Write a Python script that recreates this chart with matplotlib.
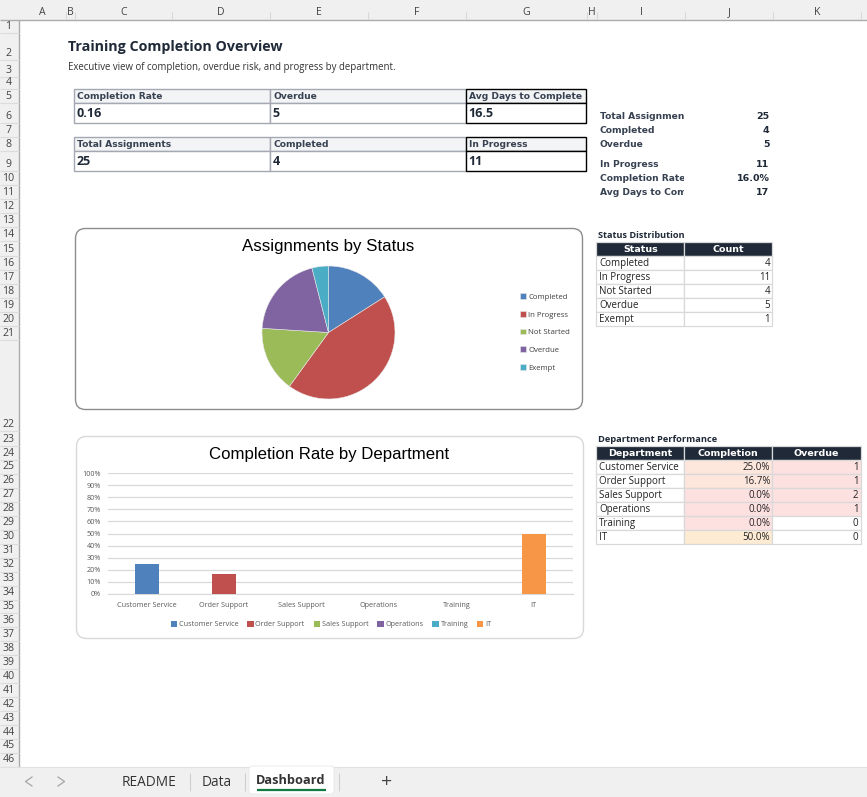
import matplotlib
matplotlib.use('Agg')
import matplotlib.pyplot as plt
from matplotlib.patches import Rectangle, FancyBboxPatch
from matplotlib.ticker import PercentFormatter

W, H = 867, 797
BODY = 'Open Sans'
HEAD = 'DejaVu Sans'
ARIAL = 'Liberation Sans'
NAVY = '#1F2937'

# data
kpi_top = [('Completion Rate', '0.16'), ('Overdue', '5'), ('Avg Days to Complete', '16.5')]
kpi_bottom = [('Total Assignments', '25'), ('Completed', '4'), ('In Progress', '11')]
side_labels = ['Total Assignments', 'Completed', 'Overdue', 'In Progress',
               'Completion Rate', 'Avg Days to Complete']
side_values = ['25', '4', '5', '11', '16.0%', '17']

statuses = ['Completed', 'In Progress', 'Not Started', 'Overdue', 'Exempt']
status_counts = [4, 11, 4, 5, 1]
status_colors = ['#4F81BD', '#C0504D', '#9BBB59', '#8064A2', '#4BACC6']

departments = ['Customer Service', 'Order Support', 'Sales Support', 'Operations', 'Training', 'IT']
completion = [0.25, 0.167, 0.0, 0.0, 0.0, 0.5]
overdue = [1, 1, 2, 1, 0, 0]
dept_colors = ['#4F81BD', '#C0504D', '#9BBB59', '#8064A2', '#4BACC6', '#F79646']

col_names = ['A', 'B', 'C', 'D', 'E', 'F', 'G', 'H', 'I', 'J', 'K']
col_edges = [19, 66, 74.5, 172, 270, 368, 466, 586.5, 597, 685, 773, 861]
row_edges = [19.5, 33, 60, 77, 89, 103, 123, 137, 151, 171, 185, 199, 213, 227, 241, 256,
             270, 284, 298, 312, 326, 340, 431, 446, 460]
while len(row_edges) < 47:
    row_edges.append(row_edges[-1] + 13.95)
sheet_tabs = ['README', 'Data', 'Dashboard']

fig = plt.figure(figsize=(W / 100, H / 100), dpi=100)
ax = fig.add_axes([0, 0, 1, 1])
ax.set_xlim(0, W)
ax.set_ylim(H, 0)
ax.axis('off')


def px_axes(x0, y0, x1, y1):
    return fig.add_axes([x0 / W, 1 - y1 / H, (x1 - x0) / W, (y1 - y0) / H])


def box(x0, y0, x1, y1, fc='none', ec='none', lw=1.0, z=2):
    ax.add_patch(Rectangle((x0, y0), x1 - x0, y1 - y0, fc=fc, ec=ec, lw=lw, zorder=z))


def line(xs, ys, color, lw=1.0, z=1):
    ax.plot(xs, ys, color=color, lw=lw, zorder=z, solid_capstyle='butt')


# sheet headers
box(0, 0, W, 19.5, fc='#F0F0F0', z=0)
box(0, 19.5, 19, 767, fc='#F0F0F0', z=0)
line([0, W], [19.5, 19.5], '#ABABAB', 1.0)
line([19, 19], [19.5, 767], '#ABABAB', 1.0)
for i, name in enumerate(col_names):
    ax.text((col_edges[i] + col_edges[i + 1]) / 2, 12.5, name, ha='center', va='center',
            fontsize=7.6, color='#444444', family=BODY)
    line([col_edges[i + 1]] * 2, [12, 19], '#D8D8D8', 0.8)
for i in range(46):
    bottom = row_edges[i + 1]
    ax.text(8.5, bottom - 7, str(i + 1), ha='center', va='center', fontsize=7.6,
            color='#444444', family=BODY)
    line([0, 19], [bottom, bottom], '#DCDCDC', 0.8)

# title
ax.text(68, 47, 'Training Completion Overview', fontsize=10.25, fontweight='bold', color=NAVY,
        family=BODY, va='center')
ax.text(68, 67.5, 'Executive view of completion, overdue risk, and progress by department.',
        fontsize=6.95, color='#333333', family=BODY, va='center')


# KPI cards
def kpi_row(items, y0, y1, y2):
    edges = [74.2, 270.2, 466.2, 586.2]
    for i, (label, value) in enumerate(items):
        last = i == 2
        ec = 'black' if last else '#A3A8B2'
        box(edges[i], y0, edges[i + 1], y1, fc='#F3F4F6', ec=ec, z=4 if last else 3)
        box(edges[i], y1, edges[i + 1], y2, fc='white', ec=ec, z=4 if last else 3)
        ax.text(edges[i] + 3, (y0 + y1) / 2 + (0.7 if last else 0), label, fontsize=6.55,
                fontweight='bold', family=HEAD, color='#374151', va='center', zorder=5)
        ax.text(edges[i] + 2.5, (y1 + y2) / 2 + (0.7 if last else 0), value, fontsize=9,
                fontweight='bold', family=BODY, color=NAVY, va='center', zorder=5)


kpi_row(kpi_top, 89, 103, 123)
kpi_row(kpi_bottom, 137, 151, 171)

# side summary, labels cut off at the column edge as in the sheet
side_ys = [116.5, 130.5, 144.5, 164.5, 178.5, 192.5]
side_clip = Rectangle((597, 100), 87, 100, transform=ax.transData)
for y, label, value in zip(side_ys, side_labels, side_values):
    t = ax.text(600, y, label, fontsize=6.55, fontweight='bold', family=HEAD, color='#374151',
                va='center')
    t.set_clip_path(side_clip)
    t.set_clip_on(True)
    ax.text(769.5, y, value, fontsize=6.8, fontweight='bold', family=HEAD, color=NAVY,
            va='center', ha='right')


def table_cell(x0, x1, y0, text, fc='white', ha='left'):
    box(x0, y0, x1, y0 + 14, fc=fc, ec='#D9D9D9', lw=0.9)
    tx = x0 + 3 if ha == 'left' else x1 - 2
    ax.text(tx, y0 + 7.5, text, ha=ha, va='center', fontsize=7, family=BODY, color='#222222',
            zorder=5)


def header_cell(x0, x1, y0, text):
    box(x0, y0, x1, y0 + 14, fc=NAVY, ec='#D9D9D9', lw=0.9)
    ax.text((x0 + x1) / 2, y0 + 7, text, ha='center', va='center', fontsize=6.8,
            fontweight='bold', family=HEAD, color='white', zorder=5)


def rate_fill(rate):
    if rate == 0:
        return '#FDE0E0'
    return '#FDEBD3' if rate >= 0.5 else '#FDE6DC'


# status table
ax.text(598.5, 235.5, 'Status Distribution', fontsize=6.6, fontweight='bold', color=NAVY,
        family=BODY, va='center')
header_cell(596.3, 684.2, 242, 'Status')
header_cell(684.2, 772.2, 242, 'Count')
for i, (status, count) in enumerate(zip(statuses, status_counts)):
    y0 = 256 + 14 * i
    table_cell(596.3, 684.2, y0, status)
    table_cell(684.2, 772.2, y0, str(count), ha='right')

# department table
ax.text(598.5, 439.5, 'Department Performance', fontsize=6.7, fontweight='bold', color=NAVY,
        family=BODY, va='center')
header_cell(596.3, 684.2, 446, 'Department')
header_cell(684.2, 772.2, 446, 'Completion')
header_cell(772.2, 860.5, 446, 'Overdue')
for i, dept in enumerate(departments):
    y0 = 460 + 14 * i
    table_cell(596.3, 684.2, y0, dept)
    table_cell(684.2, 772.2, y0, f'{completion[i]:.1%}', fc=rate_fill(completion[i]), ha='right')
    table_cell(772.2, 860.5, y0, str(overdue[i]), fc='#FDE0E0' if overdue[i] > 0 else 'white', ha='right')

# chart frames
for (x0, y0, x1, y1, ec) in [(75.5, 228.5, 582.5, 409.5, '#8C8C8C'), (76.5, 436.5, 583.5, 638.5, '#D9D9D9')]:
    ax.add_patch(FancyBboxPatch((x0 + 10, y0 + 10), x1 - x0 - 20, y1 - y0 - 20,
                                boxstyle='round,pad=10,rounding_size=10', fc='white', ec=ec,
                                lw=1.0, zorder=1))
ax.text(328.5, 246, 'Assignments by Status', fontsize=12.15, family=ARIAL, color='black',
        ha='center', va='center', zorder=3)
ax.text(329.5, 454, 'Completion Rate by Department', fontsize=12.1, family=ARIAL, color='black',
        ha='center', va='center', zorder=3)

# pie
pie_ax = px_axes(262, 266, 395, 399)
pie_ax.patch.set_alpha(0)
wedges, _ = pie_ax.pie(status_counts, colors=status_colors, startangle=90, counterclock=False,
                       radius=1.0, wedgeprops=dict(edgecolor='#E8E8E8', linewidth=0.4))
pie_ax.set_xlim(-1, 1)
pie_ax.set_ylim(-1, 1)
pie_leg = pie_ax.legend(wedges, statuses, loc='center left', frameon=False,
                        bbox_to_anchor=((513 - 262) / 133, 1 - (332.5 - 266) / 133),
                        prop=dict(family=BODY, size=5.6), labelspacing=1.3,
                        handlelength=0.75, handleheight=0.75, handletextpad=0.3)
for t in pie_leg.get_texts():
    t.set_color('#404040')

# bars
bar_ax = px_axes(108, 473, 572.5, 594)
bar_ax.patch.set_alpha(0)
for i, dept in enumerate(departments):
    bar_ax.bar(i, completion[i], width=0.31, color=dept_colors[i], label=dept, zorder=3)
bar_ax.set_xlim(-0.5, 5.5)
bar_ax.set_ylim(0, 1)
bar_ax.set_yticks([i / 10 for i in range(11)])
bar_ax.yaxis.set_major_formatter(PercentFormatter(1.0, decimals=0))
bar_ax.set_xticks(range(len(departments)))
bar_ax.set_xticklabels(departments)
bar_ax.grid(axis='y', color='#D9D9D9', lw=0.9, zorder=0)
bar_ax.set_axisbelow(True)
for side in ['top', 'right', 'left']:
    bar_ax.spines[side].set_visible(False)
bar_ax.spines['bottom'].set_color('#D9D9D9')
bar_ax.tick_params(length=0, labelsize=5.2, labelcolor='#595959')
bar_ax.tick_params(axis='x', pad=6)
bar_ax.tick_params(axis='y', pad=5)
for t in bar_ax.get_xticklabels() + bar_ax.get_yticklabels():
    t.set_family(BODY)
bar_leg = bar_ax.legend(loc='center', ncol=6, frameon=False,
                        bbox_to_anchor=((331 - 108) / 464.5, -(624.5 - 594) / 121),
                        prop=dict(family=BODY, size=5.2), handlelength=0.85, handleheight=0.85,
                        handletextpad=0.25, columnspacing=1.25, borderpad=0)
for t in bar_leg.get_texts():
    t.set_color('#595959')

# sheet tab bar
box(0, 767, W, H, fc='#F0F0F0', z=2)
line([0, W], [767, 767], '#E0E0E0', 0.8, z=3)
ax.add_patch(FancyBboxPatch((252, 769), 79, 22, boxstyle='round,pad=3,rounding_size=3', fc='white',
                            ec='#E8E8E8', lw=0.6, zorder=3))
ax.plot([257, 326], [790, 790], color='#107C41', lw=1.6, zorder=4, solid_capstyle='butt')
for name, x, y, weight, size in zip(sheet_tabs, [149, 217, 291], [782, 782, 780],
                                    ['normal', 'normal', 'bold'], [9.8, 9.8, 9.2]):
    ax.text(x, y, name, ha='center', va='center', fontsize=size, family=BODY, color='#333333',
            fontweight=weight, zorder=5)
for x in [189.5, 244.5, 338.5]:
    line([x, x], [773, 791], '#CFCFCF', 0.8, z=3)
ax.plot([32, 25.5, 32], [777, 781.5, 786], color='#A6A6A6', lw=0.9, zorder=4)
ax.plot([58, 64.5, 58], [777, 781.5, 786], color='#A6A6A6', lw=0.9, zorder=4)
ax.text(386.5, 782, '+', ha='center', va='center', fontsize=14, color='#444444', family=BODY, zorder=5)

fig.savefig('out.png', dpi=100)
